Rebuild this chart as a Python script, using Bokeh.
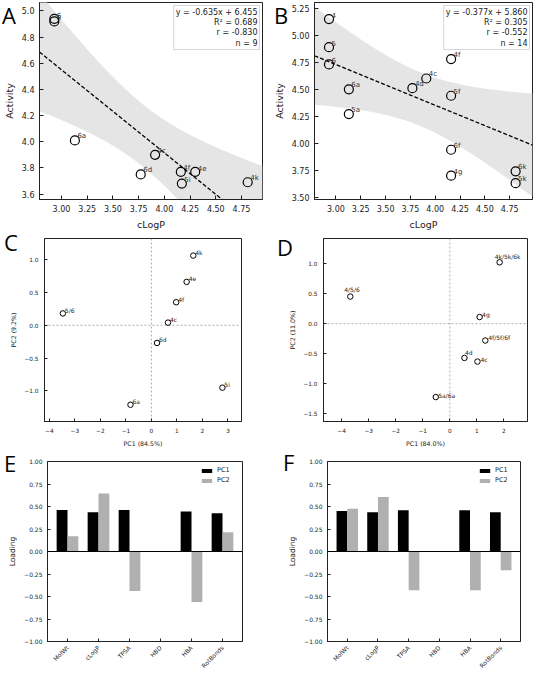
import math
import numpy as np
from bokeh.plotting import figure
from bokeh.models import (Range1d, FixedTicker, ColumnDataSource, LabelSet, Label,
                          Span, Legend, LegendItem, CustomJSTickFormatter, Div)
from bokeh.layouts import column, row
from bokeh.embed import file_html
from bokeh.resources import INLINE
from bokeh.core.properties import value
from bokeh.transform import dodge

FONT = "DejaVu Sans"
INK = "#222222"

# ---------------- data ----------------
A_names = ["6", "5", "6a", "6d", "4c", "4f", "4e", "5i", "4k"]
A_clogp = [2.93, 2.93, 3.13, 3.77, 3.91, 4.16, 4.30, 4.17, 4.81]
A_activity = [4.94, 4.92, 4.01, 3.75, 3.90, 3.77, 3.77, 3.68, 3.69]
A_slope, A_intercept = -0.635, 6.455
A_stats = ["y = -0.635x + 6.455", "R² = 0.689", "r = -0.830", "n = 9"]

B_names = ["4", "5", "6", "6a", "5a", "4d", "4c", "4f", "5f", "6f", "4g", "4k", "6k", "5k"]
B_clogp = [2.93, 2.93, 2.93, 3.13, 3.13, 3.77, 3.91, 4.16, 4.16, 4.16, 4.16, 4.81, 4.81, 4.81]
B_activity = [5.15, 4.89, 4.73, 4.50, 4.27, 4.51, 4.60, 4.78, 4.44, 3.94, 3.70, 4.92, 3.74, 3.63]
B_slope, B_intercept = -0.377, 5.860
B_stats = ["y = -0.377x + 5.860", "R² = 0.305", "r = -0.552", "n = 14"]

clogp_ticks = [3.00, 3.25, 3.50, 3.75, 4.00, 4.25, 4.50, 4.75]
A_act_ticks = [3.6, 3.8, 4.0, 4.2, 4.4, 4.6, 4.8, 5.0]
B_act_ticks = [3.50, 3.75, 4.00, 4.25, 4.50, 4.75, 5.00, 5.25]

C_names = ["4k", "4e", "4f", "4c", "6d", "5/6", "6a", "5i"]
C_pc1 = [1.64, 1.38, 0.97, 0.65, 0.22, -3.47, -0.82, 2.78]
C_pc2 = [1.06, 0.66, 0.35, 0.04, -0.27, 0.18, -1.21, -0.95]
C_xlabel, C_ylabel = "PC1 (84.5%)", "PC2 (9.2%)"
C_xticks = [-4, -3, -2, -1, 0, 1, 2, 3]
C_yticks = [-1.0, -0.5, 0.0, 0.5, 1.0]

D_names = ["4k/5k/6k", "4/5/6", "4g", "4f/5f/6f", "4d", "4c", "5a/6a"]
D_pc1 = [1.84, -3.68, 1.10, 1.31, 0.54, 1.02, -0.52]
D_pc2 = [1.02, 0.45, 0.11, -0.28, -0.57, -0.63, -1.22]
D_xlabel, D_ylabel = "PC1 (84.0%)", "PC2 (11.0%)"
D_xticks = [-4, -3, -2, -1, 0, 1, 2]
D_yticks = [-1.5, -1.0, -0.5, 0.0, 0.5, 1.0]

descriptors = ["MolWt", "cLogP", "TPSA", "HBD", "HBA", "RotBonds"]
E_pc1 = [0.46, 0.435, 0.46, 0.0, 0.445, 0.425]
E_pc2 = [0.17, 0.645, -0.44, 0.0, -0.56, 0.215]
F_pc1 = [0.45, 0.437, 0.457, 0.0, 0.457, 0.437]
F_pc2 = [0.475, 0.605, -0.43, 0.0, -0.43, -0.207]
loading_ticks = [-1.00, -0.75, -0.50, -0.25, 0.00, 0.25, 0.50, 0.75, 1.00]

# label offsets (px) for panel D labels (style only)
D_dx = [-5, -6, 2.5, 3, 0.5, 3, 2.5]
D_dy = [6, 7, 3, 3, 5.5, 2, 2]


def fmt(dec):
    return CustomJSTickFormatter(code="return tick.toFixed(%d).replace('-', '\u2212');" % dec)


def base_fig(w, h, xr, yr, mbl, mbr, mbt, mbb):
    p = figure(width=w, height=h, x_range=Range1d(*xr), y_range=Range1d(*yr),
               output_backend="svg", toolbar_location=None,
               min_border_left=mbl, min_border_right=mbr,
               min_border_top=mbt, min_border_bottom=mbb)
    p.grid.visible = False
    p.outline_line_color = INK
    p.outline_line_width = 1
    p.outline_line_alpha = 1
    p.background_fill_color = "white"
    p.border_fill_color = "white"
    return p


def style_axes(p, tick_size, label_size, tick_len, lab_sd, ax_sd):
    for ax in (p.xaxis[0], p.yaxis[0]):
        ax.major_tick_in = tick_len
        ax.major_tick_out = 0
        ax.minor_tick_line_color = None
        ax.axis_line_color = INK
        ax.major_tick_line_color = INK
        ax.major_label_text_font = FONT
        ax.major_label_text_font_size = tick_size
        ax.major_label_text_color = INK
        ax.axis_label_text_font = FONT
        ax.axis_label_text_font_size = label_size
        ax.axis_label_text_font_style = "normal"
        ax.axis_label_text_color = INK
        ax.major_label_standoff = lab_sd
        ax.axis_label_standoff = ax_sd


def letter_div(letter, fig_width, x_in_fig, y_in_row, w=24, h=32):
    html = ("<div style=\"font-family:'Open Sans',sans-serif;font-size:22px;"
            "line-height:30px;color:#000;margin:0;padding:0;\">%s</div>" % letter)
    return Div(text=html, width=w, height=h,
               margin=(y_in_row, fig_width - x_in_fig - w, 0, x_in_fig - fig_width),
               styles={"position": "relative", "z-index": "10", "overflow": "visible"})


def regression_panel(names, xs, ys, slope, intercept, stats, tcrit,
                     xr, yr, yticks, ydec, w, h, mbl, mbr, mbt, mbb):
    p = base_fig(w, h, xr, yr, mbl, mbr, mbt, mbb)
    xa = np.array(xs, dtype=float)
    ya = np.array(ys, dtype=float)
    n = len(xa)
    xm = xa.mean()
    sxx = ((xa - xm) ** 2).sum()
    resid = ya - (slope * xa + intercept)
    s = np.sqrt((resid ** 2).sum() / (n - 2))
    xg = np.linspace(xr[0], xr[1], 200)
    yg = slope * xg + intercept
    half = tcrit * s * np.sqrt(1.0 / n + (xg - xm) ** 2 / sxx)
    p.varea(x=xg, y1=yg - half, y2=yg + half, fill_color="#e5e5e5")
    p.line(xg, yg, line_color="black", line_dash="4 2", line_width=1.3)
    src = ColumnDataSource(dict(x=xs, y=ys, name=names))
    p.scatter("x", "y", source=src, size=9, marker="circle", fill_alpha=0,
              line_color="black", line_width=1.2)
    p.add_layout(LabelSet(x="x", y="y", text="name", source=src, x_offset=2.5, y_offset=4,
                          text_baseline="middle", text_font=value(FONT),
                          text_font_size="7px", text_color="#333333"))
    p.add_layout(Label(x=xr[1], y=yr[1], x_offset=-3, y_offset=-3, text="\n".join(stats),
                       text_align="right", text_baseline="top", text_font=FONT,
                       text_font_size="8px", text_color=INK, text_line_height=1.15,
                       background_fill_color="white", border_line_color="#cccccc",
                       border_line_width=0.8, padding=2))
    style_axes(p, "8px", "9.5px", 4, 5, 4)
    p.xaxis.ticker = FixedTicker(ticks=clogp_ticks)
    p.xaxis.formatter = fmt(2)
    p.yaxis.ticker = FixedTicker(ticks=yticks)
    p.yaxis.formatter = fmt(ydec)
    p.xaxis.axis_label = "cLogP"
    p.yaxis.axis_label = "Activity"
    return p


def pca_panel(names, pc1, pc2, dx, dy, xlabel, ylabel, xticks, yticks,
              xr, yr, w, h, mbl, mbr, mbt, mbb):
    p = base_fig(w, h, xr, yr, mbl, mbr, mbt, mbb)
    for dim in ("height", "width"):
        p.add_layout(Span(location=0, dimension=dim, line_color="#9a9a9a",
                          line_dash="2 2", line_width=0.8, level="underlay"))
    src = ColumnDataSource(dict(x=pc1, y=pc2, name=names, dx=dx, dy=dy))
    p.scatter("x", "y", source=src, size=5.5, marker="circle", fill_alpha=0,
              line_color="black", line_width=1)
    p.add_layout(LabelSet(x="x", y="y", text="name", source=src, x_offset="dx", y_offset="dy",
                          text_baseline="middle", text_font=value(FONT),
                          text_font_size="6px", text_color="#222222"))
    style_axes(p, "5.8px", "6.3px", 3, 6, 4)
    p.xaxis.ticker = FixedTicker(ticks=xticks)
    p.xaxis.formatter = fmt(0)
    p.yaxis.ticker = FixedTicker(ticks=yticks)
    p.yaxis.formatter = fmt(1)
    p.xaxis.axis_label = xlabel
    p.yaxis.axis_label = ylabel
    return p


def loading_panel(pc1, pc2, w, h, mbl, mbr, mbt, mbb):
    xr = (-0.645, len(descriptors) - 1 + 0.645)
    yr = (-1.0, 1.0)
    p = base_fig(w, h, xr, yr, mbl, mbr, mbt, mbb)
    src = ColumnDataSource(dict(x=list(range(len(descriptors))), pc1=pc1, pc2=pc2))
    r1 = p.vbar(x=dodge("x", -0.175), top="pc1", bottom=0, width=0.35, source=src,
                fill_color="black", line_color=None)
    r2 = p.vbar(x=dodge("x", 0.175), top="pc2", bottom=0, width=0.35, source=src,
                fill_color="#b0b0b0", line_color=None)
    p.add_layout(Span(location=0, dimension="width", line_color="black", line_width=1))
    style_axes(p, "6px", "7.5px", 3, 5, 4)
    p.xaxis.ticker = FixedTicker(ticks=list(range(len(descriptors))))
    p.xaxis.major_label_overrides = {i: d for i, d in enumerate(descriptors)}
    p.xaxis.major_label_orientation = math.pi / 4
    p.yaxis.ticker = FixedTicker(ticks=loading_ticks)
    p.yaxis.formatter = fmt(2)
    p.yaxis.axis_label = "Loading"
    legend = Legend(items=[LegendItem(label="PC1", renderers=[r1]),
                           LegendItem(label="PC2", renderers=[r2])],
                    location="top_right", background_fill_alpha=0, border_line_alpha=0,
                    label_text_font=FONT, label_text_font_size="6.5px",
                    label_text_color=INK, glyph_width=13, glyph_height=5,
                    label_standoff=4, spacing=2, padding=2, margin=3,
                    label_height=8)
    p.add_layout(legend)
    return p


WL, WR = 270, 264
pA = regression_panel(A_names, A_clogp, A_activity, A_slope, A_intercept, A_stats, 2.365,
                      (2.786, 4.954), (3.558, 5.065), A_act_ticks, 1,
                      WL, 232, 32, 8, 2, 30)
pB = regression_panel(B_names, B_clogp, B_activity, B_slope, B_intercept, B_stats, 2.179,
                      (2.784, 4.98), (3.479, 5.304), B_act_ticks, 2,
                      WR, 232, 38, 2, 2, 30)
pC = pca_panel(C_names, C_pc1, C_pc2, [2] * len(C_names), [3] * len(C_names),
               C_xlabel, C_ylabel, C_xticks, C_yticks,
               (-4.19, 3.53), (-1.465, 1.32), WL, 217, 44, 29, 6, 21)
pD = pca_panel(D_names, D_pc1, D_pc2, D_dx, D_dy,
               D_xlabel, D_ylabel, D_xticks, D_yticks,
               (-4.67, 2.87), (-1.626, 1.415), WR, 217, 53, 7, 6, 21)
pE = loading_panel(E_pc1, E_pc2, WL, 228, 47, 28, 12, 36)
pF = loading_panel(F_pc1, F_pc2, WR, 228, 57, 14, 12, 36)

layout = column(
    row(pA, letter_div("A", WL, 2, 0), pB, letter_div("B", WR, 4, 0)),
    row(pC, letter_div("C", WL, 4, -5), pD, letter_div("D", WR, 7, 0)),
    row(pE, letter_div("E", WL, 4, -1), pF, letter_div("F", WR, 13, -2)),
)

with open("out.html", "w") as f:
    f.write(file_html(layout, INLINE))
